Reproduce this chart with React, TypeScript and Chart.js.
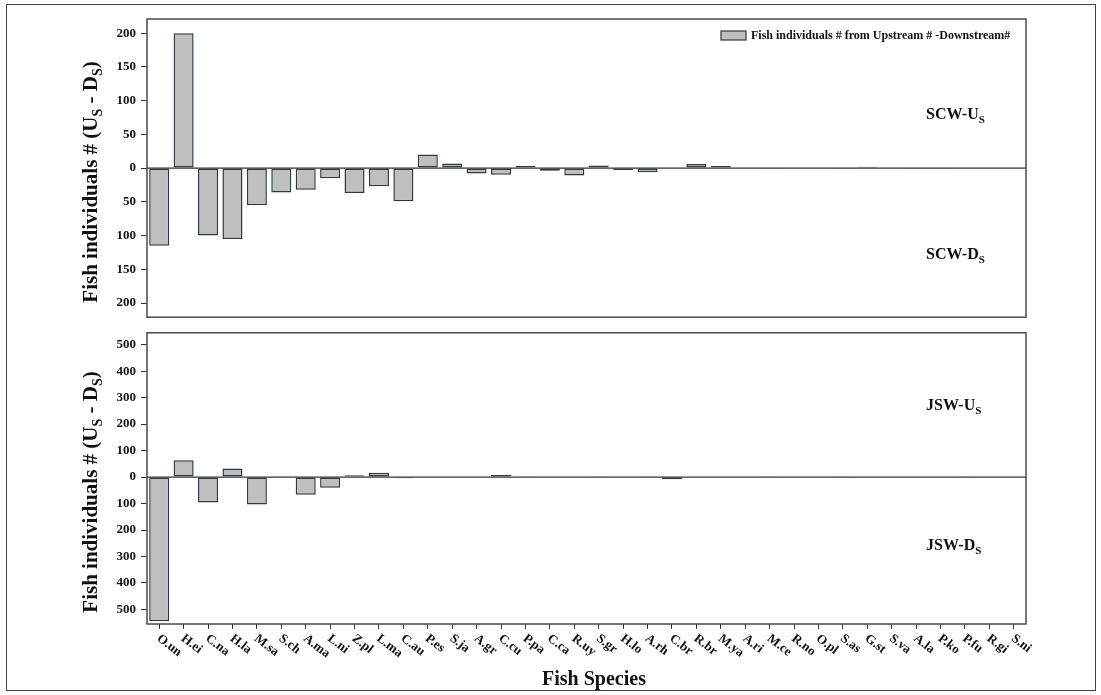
import React, { useEffect, useRef } from 'react';
import { Chart, registerables } from 'chart.js';

Chart.register(...registerables);

// ---------- data ----------
const species = [
  'O.un', 'H.ei', 'C.na', 'H.la', 'M.sa', 'S.ch', 'A.ma', 'L.ni', 'Z.pl', 'L.ma',
  'C.au', 'P.es', 'S.ja', 'A.gr', 'C.cu', 'P.pa', 'C.ca', 'R.uy', 'S.gr', 'H.lo',
  'A.rh', 'C.br', 'R.br', 'M.ya', 'A.ri', 'M.ce', 'R.no', 'O.pl', 'S.as', 'G.st',
  'S.va', 'A.la', 'P.ko', 'P.fu', 'R.gi', 'S.ni',
];

// SCW: upstream - downstream (positive = U_S, negative = D_S)
const scwValues = [
  -115, 200, -100, -105, -55, -36, -32, -15, -37, -27,
  -49, 20, 7, -8, -10, 3, -4, -11, 4, -3,
  -6, 0, 6, 3, 1, -1, 0, 0, -1, 2,
  0, -1, -1, 0, 0, 0,
];

// JSW: upstream - downstream
const jswValues = [
  -545, 64, -96, 32, -104, -3, -67, -40, 7, 16,
  -4, 0, 0, 0, 8, 3, 0, -2, 3, 0,
  -1, -8, 0, 0, 0, 3, 0, -2, -1, 0,
  -2, 0, 0, 1, 0, 2,
];

const scwTicks = [-200, -150, -100, -50, 0, 50, 100, 150, 200];
const jswTicks = [-500, -400, -300, -200, -100, 0, 100, 200, 300, 400, 500];
const scwRange = [-221, 221];
const jswRange = [-555, 545];

const legendText = 'Fish individuals # from Upstream # -Downstream#';
const xTitle = 'Fish Species';

type Part = { t: string; sub?: boolean };
const yTitleParts: Part[] = [
  { t: 'Fish individuals # (U' }, { t: 'S', sub: true }, { t: ' - D' }, { t: 'S', sub: true }, { t: ')' },
];
const scwUpLabel: Part[] = [{ t: 'SCW-U' }, { t: 'S', sub: true }];
const scwDownLabel: Part[] = [{ t: 'SCW-D' }, { t: 'S', sub: true }];
const jswUpLabel: Part[] = [{ t: 'JSW-U' }, { t: 'S', sub: true }];
const jswDownLabel: Part[] = [{ t: 'JSW-D' }, { t: 'S', sub: true }];

// ---------- styles ----------
const SERIF = "'Liberation Serif', 'Times New Roman', serif";
const BAR_FILL = '#bfbfbf';
const BAR_EDGE = '#2d3a3f';
const FRAME = '#4a4a4a';
const TEXT = '#111111';

function partFont(p: Part, size: number) {
  return `bold ${p.sub ? Math.round(size * 0.68) : size}px ${SERIF}`;
}

function richWidth(ctx: CanvasRenderingContext2D, parts: Part[], size: number) {
  let w = 0;
  for (const p of parts) {
    ctx.font = partFont(p, size);
    w += ctx.measureText(p.t).width;
  }
  return w;
}

function drawRich(
  ctx: CanvasRenderingContext2D, parts: Part[], x: number, y: number, size: number, align: 'left' | 'center' = 'left',
) {
  const w = richWidth(ctx, parts, size);
  let cx = align === 'center' ? x - w / 2 : x;
  ctx.textAlign = 'left';
  ctx.textBaseline = 'alphabetic';
  ctx.fillStyle = TEXT;
  for (const p of parts) {
    ctx.font = partFont(p, size);
    ctx.fillText(p.t, cx, p.sub ? y + size * 0.22 : y);
    cx += ctx.measureText(p.t).width;
  }
}

type PanelOpts = {
  values: number[];
  ticks: number[];
  range: number[];
  padTop: number;
  padBottom: number;
  showX: boolean;
  titleCenterY: number;
  upLabel: Part[];
  upY: number;
  downLabel: Part[];
  downY: number;
  legend: boolean;
};

function makeConfig(o: PanelOpts): any {
  const decor = {
    id: 'decor',
    afterDatasetsDraw(chart: any) {
      const ctx: CanvasRenderingContext2D = chart.ctx;
      const a = chart.chartArea;
      const y0 = chart.scales.y.getPixelForValue(0);
      ctx.save();
      ctx.strokeStyle = '#333';
      ctx.lineWidth = 1.2;
      ctx.beginPath();
      ctx.moveTo(a.left, y0);
      ctx.lineTo(a.right, y0);
      ctx.stroke();
      ctx.strokeStyle = FRAME;
      ctx.lineWidth = 1.5;
      ctx.strokeRect(a.left, a.top, a.right - a.left, a.bottom - a.top);
      ctx.restore();
    },
    afterDraw(chart: any) {
      const ctx: CanvasRenderingContext2D = chart.ctx;
      const a = chart.chartArea;
      ctx.save();
      // y-axis title
      ctx.save();
      ctx.translate(97, o.titleCenterY);
      ctx.rotate(-Math.PI / 2);
      drawRich(ctx, yTitleParts, 0, 0, 21, 'center');
      ctx.restore();
      // annotations
      drawRich(ctx, o.upLabel, 926, o.upY, 16);
      drawRich(ctx, o.downLabel, 926, o.downY, 16);
      // legend
      if (o.legend) {
        ctx.fillStyle = BAR_FILL;
        ctx.fillRect(721, 31, 25, 9);
        ctx.strokeStyle = BAR_EDGE;
        ctx.lineWidth = 1.2;
        ctx.strokeRect(721, 31, 25, 9);
        ctx.fillStyle = TEXT;
        ctx.font = `bold 12px ${SERIF}`;
        ctx.textAlign = 'left';
        ctx.textBaseline = 'middle';
        ctx.fillText(legendText, 751, 36);
      }
      // x labels and title
      if (o.showX) {
        const xs = chart.scales.x;
        ctx.fillStyle = TEXT;
        ctx.font = `bold 13px ${SERIF}`;
        ctx.textAlign = 'left';
        ctx.textBaseline = 'middle';
        species.forEach((s, i) => {
          const x = xs.getPixelForValue(i);
          ctx.save();
          ctx.translate(x - 1, a.bottom + 13);
          ctx.rotate((38 * Math.PI) / 180);
          ctx.fillText(s, 0, 0);
          ctx.restore();
        });
        ctx.font = `bold 20px ${SERIF}`;
        ctx.textAlign = 'center';
        ctx.textBaseline = 'alphabetic';
        ctx.fillText(xTitle, 594, 365);
      }
      ctx.restore();
    },
  };

  return {
    type: 'bar',
    data: {
      labels: species,
      datasets: [
        {
          label: legendText,
          data: o.values,
          backgroundColor: BAR_FILL,
          borderColor: BAR_EDGE,
          borderWidth: 1.5,
          borderSkipped: false,
          barPercentage: 0.82,
          categoryPercentage: 1.0,
        },
      ],
    },
    options: {
      animation: false,
      responsive: false,
      maintainAspectRatio: false,
      devicePixelRatio: 1,
      layout: { padding: { left: 0, right: 75, top: o.padTop, bottom: o.padBottom } },
      plugins: { legend: { display: false }, tooltip: { enabled: false } },
      scales: {
        x: {
          display: o.showX,
          offset: true,
          grid: { offset: false, drawOnChartArea: false, drawTicks: true, tickLength: 5, color: '#333', lineWidth: 1 },
          border: { display: false },
          ticks: { display: false, autoSkip: false },
          afterFit: (s: any) => { s.height = o.showX ? 71 : 0; },
        },
        y: {
          min: o.range[0],
          max: o.range[1],
          afterBuildTicks: (s: any) => { s.ticks = o.ticks.map((v) => ({ value: v })); },
          afterFit: (s: any) => { s.width = 147; },
          ticks: {
            autoSkip: false,
            padding: 5,
            color: TEXT,
            font: { family: SERIF, size: 13, weight: 'bold' },
            callback: (v: any) => String(Math.abs(Number(v))),
          },
          grid: { drawOnChartArea: false, drawTicks: true, tickLength: 6, color: '#333', lineWidth: 1 },
          border: { display: false },
        },
      },
    },
    plugins: [decor],
  };
}

export default function App() {
  const topRef = useRef<HTMLCanvasElement>(null);
  const botRef = useRef<HTMLCanvasElement>(null);

  useEffect(() => {
    const top = new Chart(
      topRef.current as HTMLCanvasElement,
      makeConfig({
        values: scwValues,
        ticks: scwTicks,
        range: scwRange,
        padTop: 19,
        padBottom: 3,
        showX: false,
        titleCenterY: 182,
        upLabel: scwUpLabel,
        upY: 119,
        downLabel: scwDownLabel,
        downY: 259,
        legend: true,
      }),
    );
    const bot = new Chart(
      botRef.current as HTMLCanvasElement,
      makeConfig({
        values: jswValues,
        ticks: jswTicks,
        range: jswRange,
        padTop: 7,
        padBottom: 0,
        showX: true,
        titleCenterY: 172,
        upLabel: jswUpLabel,
        upY: 90,
        downLabel: jswDownLabel,
        downY: 230,
        legend: false,
      }),
    );
    return () => {
      top.destroy();
      bot.destroy();
    };
  }, []);

  return (
    <div style={{ position: 'absolute', left: 0, top: 0, width: 1101, height: 695, background: '#fff', overflow: 'hidden' }}>
      <div
        style={{
          position: 'absolute', left: 6, top: 4, width: 1090, height: 687,
          border: '1px solid #444', boxSizing: 'border-box',
        }}
      />
      <canvas ref={topRef} width={1101} height={330} style={{ position: 'absolute', left: 0, top: 0 }} />
      <canvas ref={botRef} width={1101} height={375} style={{ position: 'absolute', left: 0, top: 320 }} />
    </div>
  );
}
